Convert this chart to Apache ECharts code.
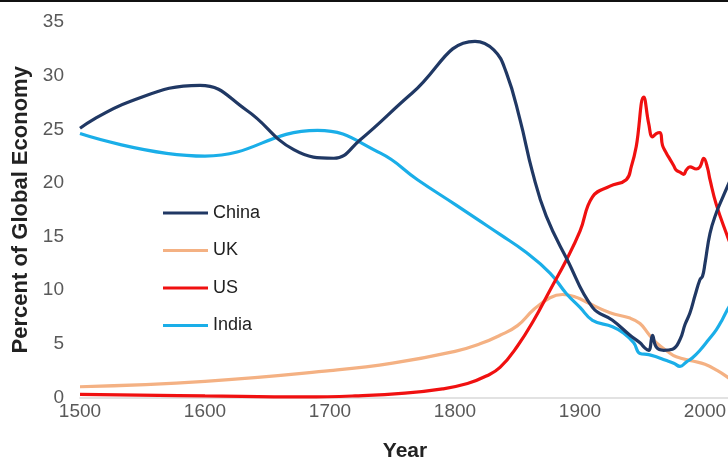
<!DOCTYPE html>
<html>
<head>
<meta charset="utf-8">
<script src="https://cdn.jsdelivr.net/npm/echarts@6/dist/echarts.min.js"></script>
<style>
  html, body { margin: 0; padding: 0; background: #fff; }
  #chart { width: 728px; height: 464px; }
</style>
</head>
<body>
<div id="chart"></div>
<script>
// Share of world GDP (percent), by country
const chinaYears = [1500, 1540, 1596, 1633, 1671, 1703, 1724, 1766, 1816, 1831, 1841, 1852, 1862, 1873, 1890, 1910, 1926, 1940, 1948, 1952, 1955, 1958, 1961, 1967, 1974, 1980, 1984, 1988, 1992, 1996, 1998, 2000, 2004, 2009, 2014, 2020];
const chinaShare = [25.1, 27.6, 29.1, 26.8, 23.1, 22.3, 24.0, 28.4, 33.2, 32.4, 30.3, 25.9, 21.0, 16.9, 12.8, 8.4, 7.2, 5.8, 5.1, 4.6, 4.4, 5.8, 4.7, 4.4, 4.5, 5.4, 6.8, 7.9, 9.5, 11.0, 11.3, 12.5, 15.3, 17.2, 18.6, 20.2];

const ukYears = [1500, 1600, 1700, 1750, 1800, 1820, 1836, 1850, 1863, 1876, 1886, 1898, 1905, 1924, 1940, 1948, 1955, 1961, 1970, 1977, 1990, 2000, 2010, 2018, 2020];
const ukShare = [1.0, 1.5, 2.5, 3.2, 4.3, 5.0, 5.8, 6.7, 8.2, 9.3, 9.6, 9.3, 8.9, 7.9, 7.4, 6.9, 5.9, 5.1, 4.3, 3.8, 3.4, 3.1, 2.5, 1.9, 1.7];

const usYears = [1500, 1600, 1680, 1720, 1760, 1790, 1810, 1825, 1836, 1850, 1863, 1876, 1889, 1900, 1910, 1924, 1937, 1941, 1945, 1951, 1955, 1958, 1961, 1964, 1966, 1969, 1972, 1975, 1977, 1980, 1983, 1985, 1988, 1993, 1996, 1999, 2002, 2004, 2009, 2018, 2020];
const usShare = [0.3, 0.15, 0.05, 0.15, 0.4, 0.8, 1.3, 2.0, 2.8, 4.8, 7.2, 10.0, 12.8, 15.5, 18.7, 19.7, 20.3, 21.5, 23.4, 28.0, 25.5, 24.3, 24.6, 24.7, 23.5, 22.8, 22.2, 21.6, 21.2, 21.0, 20.8, 21.2, 21.5, 21.3, 21.5, 22.3, 21.4, 20.3, 18.0, 15.0, 14.4];

const indiaYears = [1500, 1600, 1690, 1740, 1770, 1800, 1818, 1836, 1856, 1876, 1889, 1900, 1910, 1926, 1935, 1943, 1948, 1955, 1961, 1968, 1975, 1980, 1985, 1990, 1996, 2003, 2009, 2014, 2018, 2020];
const indiaShare = [24.6, 22.5, 24.9, 22.8, 20.3, 18.0, 16.6, 15.2, 13.6, 11.6, 9.7, 8.4, 7.2, 6.6, 6.0, 5.1, 4.1, 4.0, 3.8, 3.5, 3.2, 2.9, 3.3, 3.7, 4.4, 5.4, 6.3, 7.3, 8.2, 8.6];

const seriesNames = ['China', 'UK', 'US', 'India'];
const seriesColors = ['#203864', '#F4B183', '#F01010', '#1AAEE8'];

function pairs(xs, ys) {
  return xs.map((x, i) => [x, ys[i]]);
}

const seriesData = [
  pairs(chinaYears, chinaShare),
  pairs(ukYears, ukShare),
  pairs(usYears, usShare),
  pairs(indiaYears, indiaShare)
];

const FONT = 'Liberation Sans, Arial, sans-serif';
const chart = echarts.init(document.getElementById('chart'), null, { renderer: 'canvas' });

chart.setOption({
  animation: false,
  backgroundColor: '#ffffff',
  grid: { left: 80, right: -2, top: 22, bottom: 66.5, containLabel: false, outerBoundsMode: 'none' },
  legend: {
    orient: 'vertical',
    left: 163,
    top: 204,
    padding: 0,
    icon: 'rect',
    itemWidth: 45,
    itemHeight: 3,
    itemGap: 19.5,
    data: seriesNames,
    textStyle: { color: '#222', fontSize: 18, fontFamily: FONT }
  },
  xAxis: {
    type: 'value',
    min: 1500,
    max: 2020,
    interval: 100,
    name: 'Year',
    nameLocation: 'middle',
    nameGap: 43,
    nameTextStyle: { color: '#222', fontSize: 21, fontWeight: 'bold', fontFamily: FONT },
    axisLine: { show: true, lineStyle: { color: '#d9d9d9', width: 1.5 } },
    axisTick: { show: false },
    splitLine: { show: false },
    axisLabel: {
      color: '#595959', fontSize: 19, margin: 5, fontFamily: FONT,
      showMaxLabel: false,
      formatter: v => String(v)
    }
  },
  yAxis: {
    type: 'value',
    min: 0,
    max: 35,
    interval: 5,
    name: 'Percent of Global Economy',
    nameLocation: 'middle',
    nameGap: 41,
    nameTextStyle: { color: '#222', fontSize: 22, fontWeight: 'bold', fontFamily: FONT },
    axisLine: { show: false },
    axisTick: { show: false },
    splitLine: { show: false },
    axisLabel: { color: '#595959', fontSize: 19, margin: 16, fontFamily: FONT }
  },
  graphic: [{
    type: 'line',
    shape: { x1: 0, y1: 1, x2: 728, y2: 1 },
    style: { stroke: '#111', lineWidth: 2 },
    silent: true
  }],
  series: seriesNames.map((name, i) => ({
    name: name,
    type: 'line',
    data: seriesData[i],
    smooth: 0.45,
    showSymbol: false,
    color: seriesColors[i],
    lineStyle: { color: seriesColors[i], width: 3.2 },
    z: [4, 1, 3, 2][i]
  }))
});
</script>
</body>
</html>
